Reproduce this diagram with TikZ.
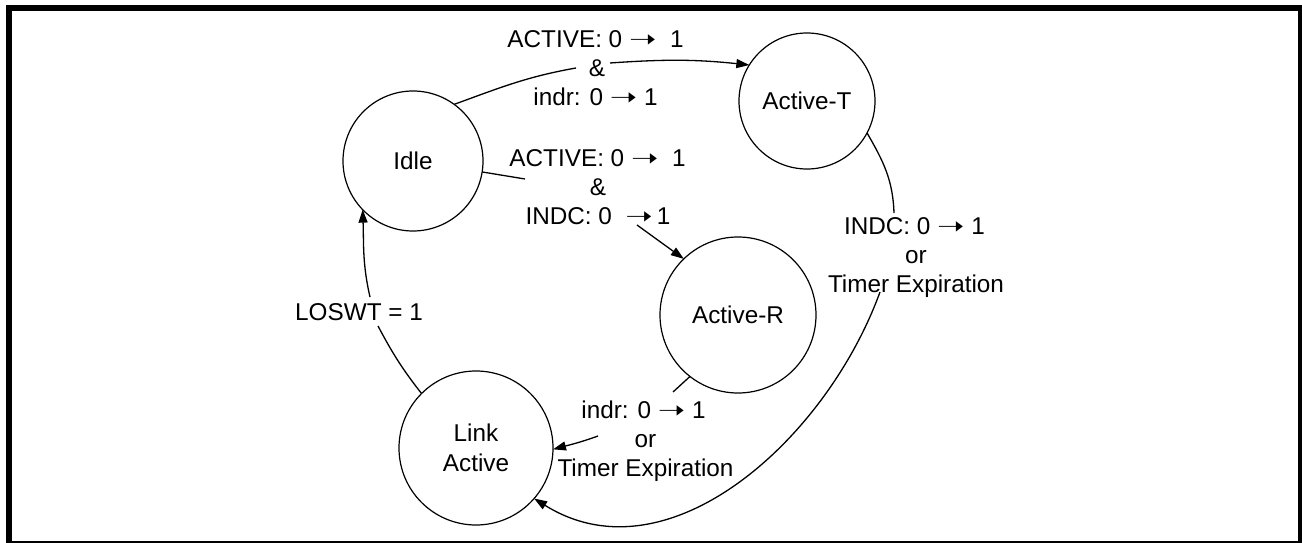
\documentclass[tikz,border=0pt]{standalone}
\usepackage{fontspec}
\setmainfont{Liberation Sans}
\newfontfamily\arrfont{DejaVu Sans}
\usetikzlibrary{arrows.meta}
\newcommand\myarr{\scalebox{1.35}[1]{\arrfont\symbol{"279D}}}
\newcommand\labfont{\fontsize{24.3}{30}\selectfont}
\begin{document}
\begin{tikzpicture}[x=1pt,y=1pt,
  state/.style={circle,draw,line width=1.2pt,inner sep=0pt,outer sep=0pt,font=\labfont,align=center},
  lab/.style={inner sep=0pt,anchor=base,font=\labfont},
  conn/.style={line width=1.3pt},
  arr/.style={conn,-{Triangle[length=13pt,width=9pt]}}]
\useasboundingbox (0,0) rectangle (1302,542);
\begin{scope}
\clip (0,0) rectangle (1302,542);
\draw[line width=6pt] (9,-2) rectangle (1301,534);
\end{scope}
% states
\node[state,minimum size=140pt] (idle) at (413,381) {Idle};
\node[state,minimum size=136pt] (actT) at (807,441) {Active-T};
\node[state,minimum size=156pt] (actR) at (738,227) {Active-R};
\node[state,minimum size=154pt] (link) at (476,94) {Link\\Active};
% labels
\node[lab] (l1a) at (595.5,494) {ACTIVE: 0 \myarr\ \ 1};
\node[lab] (l1b) at (597,465) {\&};
\node[lab] (l1c) at (595.5,436) {indr: 0\ \myarr\ 1};
\node[lab] (l2a) at (597.5,375) {ACTIVE: 0 \myarr\ \ 1};
\node[lab] (l2b) at (598,346) {\&};
\node[lab] (l2c) at (598,317) {INDC: 0\ \ \myarr\,1};
\node[lab] (l3a) at (643.5,124) {indr: 0 \myarr\ 1};
\node[lab] (l3b) at (645.5,95) {or};
\node[lab] (l3c) at (645.5,66) {Timer Expiration};
\node[lab] (l4a) at (914.5,308) {INDC: 0 \myarr\ 1};
\node[lab] (l4b) at (916,279) {or};
\node[lab] (l4c) at (916,250) {Timer Expiration};
\node[lab] (l5) at (359,222) {LOSWT = 1};
% gap ends of connectors around labels
\coordinate (g1a) at (576,474);
\coordinate (g1b) at (610,479);
\coordinate (g2a) at (525,363);
\coordinate (g2b) at (637,317);
\coordinate (g3a) at (673,150);
\coordinate (g3b) at (598,106);
\coordinate (g4a) at (894,329);
\coordinate (g4b) at (880,250);
\coordinate (g5a) at (378,216);
\coordinate (g5b) at (370,245);
% connectors
\draw[conn] (idle.54) to[out=20,in=190] (g1a);
\draw[arr] (g1b) to[out=4,in=174] (actT.148);
\draw[conn] (idle.-9.5) -- (g2a);
\draw[arr] (g2b) -- (actR.134);
\draw[conn] (actR.232.6) -- (g3a);
\draw[arr] (g3b) to[out=200,in=15] (link.-1);
\draw[conn] (actT.-28) to[out=-60,in=92] (g4a);
\draw[arr] (g4b) to[out=250,in=-32] (link.-41);
\draw[conn] (link.135.5) to[out=128,in=-62] (g5a);
\draw[arr] (g5b) to[out=103,in=-88] (idle.224.4);
\end{tikzpicture}
\end{document}
